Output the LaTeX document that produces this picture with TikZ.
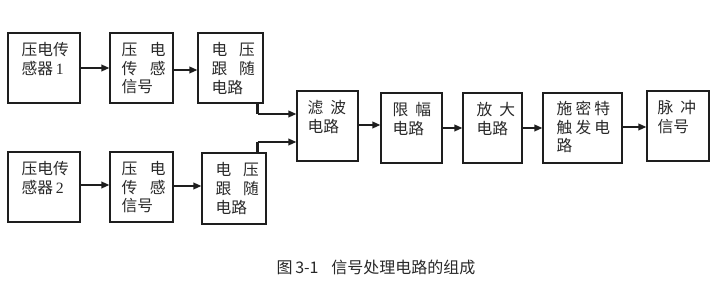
\documentclass[tikz,border=0pt]{standalone}
\usepackage{fontspec}
\usepackage{tikz}
\usetikzlibrary{arrows.meta, positioning, calc}
\setmainfont{Noto Sans CJK SC}
\newfontfamily\numfont{Liberation Serif}
\definecolor{edge}{RGB}{30, 30, 30}
\definecolor{ink}{RGB}{40, 40, 40}
\newcommand{\zs}[1]{\hspace{#1em}}

\begin{document}
\begin{tikzpicture}[x=0.75pt, y=-0.75pt,
  blockbox/.style 2 args={draw=edge, line width=0.9pt, inner sep=0pt,
    minimum width=#1*0.75pt, minimum height=#2*0.75pt},
  blocktext/.style={anchor=north west, inner sep=0pt, align=left,
    font=\fontsize{11.8}{14}\selectfont, text=ink},
  link/.style={draw=edge, line width=1.1pt, -{Triangle[length=6pt, width=5pt]}},
  stem/.style={draw=edge, line width=2.2pt}]
  \useasboundingbox (0,0) rectangle (719,291);

  % upper branch
  \node[blockbox={72}{70}] (sensA) at (44,68) {};
  \node[blockbox={63}{70}] (sigA) at (141.5,68) {};
  \node[blockbox={65}{70}] (folA) at (230.5,68) {};
  % lower branch
  \node[blockbox={72}{70}] (sensB) at (44,187) {};
  \node[blockbox={63}{70}] (sigB) at (141.5,187) {};
  \node[blockbox={64}{71}] (folB) at (234,188.5) {};
  % main chain
  \node[blockbox={61}{70}] (filt) at (327.5,126) {};
  \node[blockbox={61}{70}] (limit) at (411.5,128) {};
  \node[blockbox={59}{70}] (amp) at (492.5,128) {};
  \node[blockbox={79}{70}] (trig) at (582.5,128) {};
  \node[blockbox={62}{70}] (pulse) at (678,126) {};

  % box texts
  \node[blocktext] (sensAtxt) at ([shift={(14,9.5)}]sensA.north west) {压电传\\感器\,{\numfont 1}};
  \node[blocktext] (sigAtxt) at ([shift={(12,9.5)}]sigA.north west) {压\zs{0.8}电\\传\zs{0.8}感\\信号};
  \node[blocktext] (folAtxt) at ([shift={(14,10)}]folA.north west) {电\zs{0.75}压\\跟\zs{0.75}随\\电路};
  \node[blocktext] (sensBtxt) at ([shift={(14,9.5)}]sensB.north west) {压电传\\感器\,{\numfont 2}};
  \node[blocktext] (sigBtxt) at ([shift={(12,9.5)}]sigB.north west) {压\zs{0.8}电\\传\zs{0.8}感\\信号};
  \node[blocktext] (folBtxt) at ([shift={(14,10)}]folB.north west) {电\zs{0.75}压\\跟\zs{0.75}随\\电路};
  \node[blocktext] (filttxt) at ([shift={(11,9.5)}]filt.north west) {滤\zs{0.45}波\\电路};
  \node[blocktext] (limittxt) at ([shift={(12,9.5)}]limit.north west) {限\zs{0.45}幅\\电路};
  \node[blocktext] (amptxt) at ([shift={(14,9.5)}]amp.north west) {放\zs{0.45}大\\电路};
  \node[blocktext] (trigtxt) at ([shift={(14,8.5)}]trig.north west) {施\zs{0.2}密\zs{0.2}特\\触\zs{0.2}发\zs{0.2}电\\路};
  \node[blocktext] (pulsetxt) at ([shift={(11,9.5)}]pulse.north west) {脉\zs{0.45}冲\\信号};

  % arrows of both branches
  \draw[link] (sensA.east) -- (sensA.east -| sigA.west);
  \draw[link] ([yshift=-1.5pt]sigA.east) -- ([yshift=-1.5pt]sigA.east -| folA.west);
  \draw[link] ([yshift=1.5pt]sensB.east) -- ([yshift=1.5pt]sensB.east -| sigB.west);
  \draw[link] ([yshift=0.75pt]sigB.east) -- ([yshift=0.75pt]sigB.east -| folB.west);

  % joining into the filter
  \coordinate (tapA) at ([xshift=-4.5pt]folA.south east);
  \coordinate (tapB) at (tapA |- folB.north);
  \coordinate (inA) at ([yshift=9pt]filt.west);
  \coordinate (inB) at ([yshift=-12pt]filt.west);
  \draw[stem] (tapA) -- (tapA |- inA);
  \draw[link] (tapA |- inA) -- (inA);
  \draw[stem] (tapB) -- (tapB |- inB);
  \draw[link] (tapB |- inB) -- (inB);

  % main chain arrows
  \draw[link] ([yshift=0.75pt]filt.east) -- ([yshift=0.75pt]filt.east -| limit.west);
  \draw[link] (limit.east) -- (limit.east -| amp.west);
  \draw[link] (amp.east) -- (amp.east -| trig.west);
  \draw[link] ([yshift=0.75pt]trig.east) -- ([yshift=0.75pt]trig.east -| pulse.west);

  \node[font=\fontsize{12}{14}\selectfont, text=ink] (caption) at (376,267)
    {图\,3-1\zs{0.8}信号处理电路的组成};
\end{tikzpicture}
\end{document}
